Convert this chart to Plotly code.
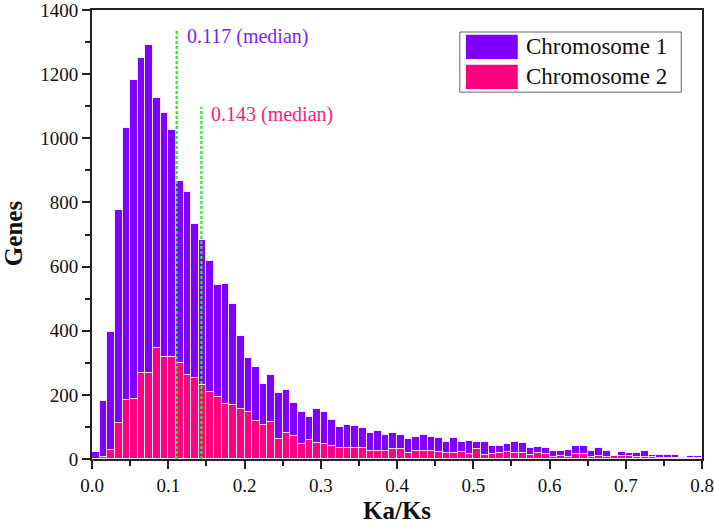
import plotly.graph_objects as go

# ---- data ----
bin_width = 0.01
bin_starts = [round(i * bin_width, 2) for i in range(80)]

chr1_counts = [21, 180, 395, 776, 1032, 1183, 1250, 1291, 1126, 1079,
               1026, 868, 833, 734, 684, 616, 542, 545, 484, 385,
               316, 286, 235, 262, 207, 216, 175, 148, 132, 155,
               146, 123, 101, 106, 103, 96, 82, 87, 74, 82,
               74, 62, 68, 75, 69, 64, 54, 66, 53, 56,
               54, 53, 40, 40, 48, 53, 50, 35, 38, 33,
               24, 26, 28, 42, 40, 25, 34, 26, 8, 22,
               20, 20, 24, 14, 14, 14, 11, 6, 10, 9]

chr2_counts = [0, 7, 28, 111, 184, 186, 268, 268, 347, 318,
               318, 300, 262, 253, 231, 210, 193, 171, 169, 156,
               148, 118, 106, 114, 62, 80, 73, 47, 59, 51,
               47, 42, 33, 34, 35, 34, 25, 24, 24, 31,
               31, 19, 24, 26, 25, 22, 18, 19, 23, 16,
               31, 12, 16, 18, 23, 19, 19, 11, 18, 15,
               7, 8, 6, 15, 15, 7, 8, 5, 10, 10,
               8, 7, 5, 5, 4, 4, 4, 3, 4, 4]

series_names = ["Chromosome 1", "Chromosome 2"]
series_colors = ["#7F00FF", "#FF0080"]
label_colors = ["#7A22FF", "#FF1A7A"]

median_line_x = [0.111, 0.1435]
median_line_top = [1340, 1098]
median_labels = ["0.117 (median)", "0.143 (median)"]
median_label_pos = [(0.122, 1318), (0.153, 1075)]

x_ticks = [0.0, 0.1, 0.2, 0.3, 0.4, 0.5, 0.6, 0.7, 0.8]
y_ticks = [0, 200, 400, 600, 800, 1000, 1200, 1400]

FONT = "Liberation Serif, Times New Roman, serif"

fig = go.Figure()
for counts, name, color in zip([chr1_counts, chr2_counts], series_names, series_colors):
    fig.add_trace(go.Bar(
        x=[s + bin_width / 2 for s in bin_starts],
        y=counts,
        width=bin_width,
        name=name,
        marker=dict(color=color, line=dict(color="rgba(255,255,255,0.85)", width=1)),
        showlegend=False,
    ))

for mx, top in zip(median_line_x, median_line_top):
    fig.add_trace(go.Scatter(
        x=[mx, mx], y=[0, top], mode="lines",
        line=dict(color="#22EE22", width=2.2, dash="3px,2px"),
        showlegend=False, hoverinfo="skip",
    ))

annotations = []
for text, (ax, ay), color in zip(median_labels, median_label_pos, label_colors):
    annotations.append(dict(
        x=ax, y=ay, xref="x", yref="y", text=text, showarrow=False,
        xanchor="left", yanchor="middle",
        font=dict(family=FONT, size=20, color=color),
    ))

# axis titles
annotations.append(dict(x=0.5, y=-0.1136, xref="paper", yref="paper", text="<b>Ka/Ks</b>",
                        showarrow=False, xanchor="center", yanchor="middle",
                        font=dict(family=FONT, size=25, color="#111111")))
annotations.append(dict(x=-0.1295, y=0.503, xref="paper", yref="paper", text="<b>Genes</b>",
                        showarrow=False, xanchor="center", yanchor="middle", textangle=-90,
                        font=dict(family=FONT, size=25, color="#111111")))

# custom legend (box + swatches + labels), in paper coordinates
shapes = [dict(type="rect", xref="paper", yref="paper",
               x0=0.603, x1=0.966, y0=0.817, y1=0.951,
               line=dict(color="#666666", width=1), fillcolor="white", layer="above")]
legend_rows = [0.918, 0.851]
for name, color, yc in zip(series_names, series_colors, legend_rows):
    shapes.append(dict(type="rect", xref="paper", yref="paper",
                       x0=0.613, x1=0.698, y0=yc - 0.027, y1=yc + 0.027,
                       line=dict(width=0), fillcolor=color, layer="above"))
    annotations.append(dict(
        x=0.708, y=yc, xref="paper", yref="paper", text=name, showarrow=False,
        xanchor="left", yanchor="middle",
        font=dict(family=FONT, size=23, color="#111111"),
    ))

axis_common = dict(
    showline=True, linewidth=2, linecolor="#222222", mirror=True,
    ticks="outside", tickwidth=1.5, tickcolor="#222222",
    showgrid=False, zeroline=False, automargin=False,
    ticklabeloverflow="allow",
    tickfont=dict(family=FONT, size=19, color="#111111"),
)

fig.update_layout(
    width=714, height=528,
    margin=dict(l=92, r=12, t=10, b=69),
    paper_bgcolor="white", plot_bgcolor="white",
    barmode="overlay", bargap=0,
    shapes=shapes, annotations=annotations,
    xaxis=dict(range=[0, 0.8], tickvals=x_ticks, tickformat=".1f", ticklen=8,
               minor=dict(dtick=0.05, ticks="outside", ticklen=5, tickcolor="#222222", tickwidth=1.5),
               **axis_common),
    yaxis=dict(range=[0, 1400], tickvals=y_ticks, ticklen=8,
               minor=dict(dtick=100, ticks="outside", ticklen=5, tickcolor="#222222", tickwidth=1.5),
               **axis_common),
)

fig.write_html("out.html", config={"displayModeBar": False},
               post_script="document.body.style.margin='0';")
